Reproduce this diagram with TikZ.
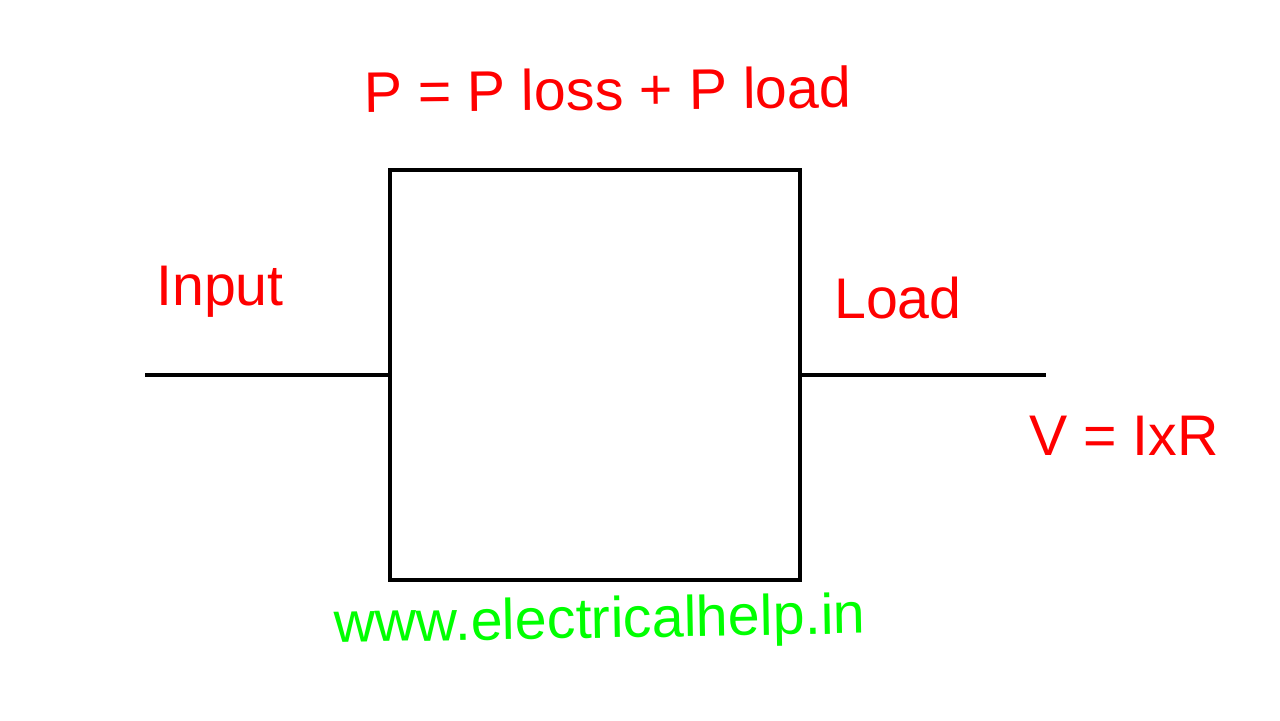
\documentclass[tikz,border=0pt]{standalone}
\usepackage{fontspec}
\setmainfont{Liberation Sans}
\usepackage{xcolor}
\usetikzlibrary{positioning}
\definecolor{lblred}{RGB}{255, 0, 0}
\definecolor{webgreen}{RGB}{0, 255, 0}
\tikzset{
    wire/.style  ={draw=black, line width=2pt},
    blk/.style   ={wire, fill=white, minimum width=8.2cm, minimum height=8.2cm,
                   inner sep=0pt},
    lbl/.style   ={text=lblred, font=\fontsize{32.6}{38}\selectfont, anchor=base,
                   inner sep=0pt},
    site/.style  ={lbl, text=webgreen}
}
\begin{document}
\begin{tikzpicture}
  \useasboundingbox (0,0) rectangle (25.6,-14.4);
  % block and leads
  \node[blk] (box) at (11.9,-7.5) {};
  \coordinate (in) at (2.9,-7.5);
  \coordinate (out) at (20.92,-7.5);
  \draw[wire] (in) -- (box.west);
  \draw[wire] (box.east) -- (out);

  % labels
  \node[lbl, rotate=0.6] (power) at (12.16,-2.2) {P = P loss + P load};
  \node[lbl] (input) at (4.4,-6.1) {Input};
  \node[lbl] (load) at (17.96,-6.36) {Load};
  \node[lbl] (ohm) at (22.48,-9.1) {V = IxR};
  \node[site, rotate=1] (web) at (12.0,-12.76) {www.electricalhelp.in};
\end{tikzpicture}
\end{document}
